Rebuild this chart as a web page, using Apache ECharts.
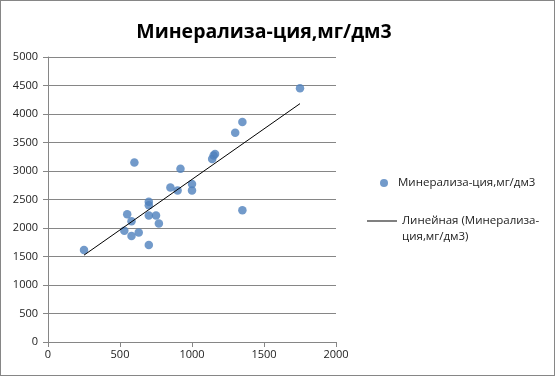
<!DOCTYPE html>
<html>
<head>
<meta charset="utf-8">
<script src="https://cdn.jsdelivr.net/npm/echarts@6/dist/echarts.min.js"></script>
<style>
  html, body { margin: 0; padding: 0; background: #fff; }
  #chart { width: 553px; height: 374px; border: 1px solid #868686; }
</style>
</head>
<body>
<div id="chart"></div>
<script>
// значения
var xValues = [250, 550, 530, 580, 580, 600, 630, 700, 700, 700, 700, 750, 770, 850, 900, 920, 1000, 1000, 1140, 1150, 1160, 1300, 1350, 1350, 1750];
var yValues = [1615, 2240, 1950, 2120, 1860, 3150, 1920, 1700, 2220, 2460, 2400, 2220, 2080, 2710, 2660, 3040, 2770, 2660, 3210, 3270, 3300, 3670, 3860, 2310, 4450];
var xTicks = [0, 500, 1000, 1500, 2000];
var yTicks = [0, 500, 1000, 1500, 2000, 2500, 3000, 3500, 4000, 4500, 5000];

var seriesName = 'Минерализа-ция,мг/дм3';
var trendName = 'Линейная (Минерализа-ция,мг/дм3)';
var font = '"Open Sans", "Noto Sans", sans-serif';

var points = xValues.map(function (x, i) { return [x, yValues[i]]; });

// линейный тренд (МНК)
var n = points.length, sx = 0, sy = 0, sxx = 0, sxy = 0;
points.forEach(function (p) {
  sx += p[0]; sy += p[1]; sxx += p[0] * p[0]; sxy += p[0] * p[1];
});
var slope = (n * sxy - sx * sy) / (n * sxx - sx * sx);
var intercept = (sy - slope * sx) / n;
var xMin = Math.min.apply(null, xValues), xMax = Math.max.apply(null, xValues);
var trend = [[xMin, intercept + slope * xMin], [xMax, intercept + slope * xMax]];

var chart = echarts.init(document.getElementById('chart'));
chart.setOption({
  animation: false,
  textStyle: { fontFamily: font },
  title: [{
    text: seriesName,
    left: 258,
    textAlign: 'center',
    top: 16,
    textStyle: { fontSize: 19.5, fontWeight: 'bold', color: '#000', fontFamily: font }
  }, {
    // вторая строка подписи линии тренда
    text: 'ция,мг/дм3)',
    left: 396,
    top: 225,
    textStyle: { fontSize: 11.5, fontWeight: 'normal', color: '#222', fontFamily: font }
  }],
  legend: [{
    data: [seriesName],
    orient: 'vertical',
    left: 374,
    top: 171,
    icon: 'circle',
    itemWidth: 18,
    itemHeight: 8,
    textStyle: { fontSize: 11.5, color: '#222' }
  }, {
    data: [trendName],
    orient: 'vertical',
    left: 361,
    top: 209,
    icon: 'path://M0,0L30,0L30,1L0,1Z',
    itemWidth: 30,
    itemHeight: 1,
    formatter: function () { return 'Линейная (Минерализа-'; },
    textStyle: { fontSize: 11.5, color: '#222' }
  }],
  grid: { left: 47, right: 218, top: 56, bottom: 33 },
  xAxis: {
    type: 'value',
    min: xTicks[0],
    max: xTicks[xTicks.length - 1],
    interval: 500,
    axisLine: { show: true, lineStyle: { color: '#868686' } },
    axisTick: { show: true, length: 5, lineStyle: { color: '#868686' } },
    axisLabel: { fontSize: 11, color: '#222', margin: 7, formatter: function (v) { return String(v); } },
    splitLine: { show: false }
  },
  yAxis: {
    type: 'value',
    min: yTicks[0],
    max: yTicks[yTicks.length - 1],
    interval: 500,
    axisLine: { show: true, lineStyle: { color: '#868686' } },
    axisTick: { show: true, length: 5, lineStyle: { color: '#868686' } },
    axisLabel: { fontSize: 11, color: '#222', margin: 10, formatter: function (v) { return String(v); } },
    splitLine: { show: true, lineStyle: { color: '#868686' } }
  },
  series: [{
    name: seriesName,
    type: 'scatter',
    symbolSize: 8.5,
    itemStyle: { color: '#4F81BD' },
    data: points
  }, {
    name: trendName,
    type: 'line',
    symbol: 'none',
    lineStyle: { color: '#000', width: 1 },
    itemStyle: { color: '#000' },
    data: trend
  }]
});
</script>
</body>
</html>
